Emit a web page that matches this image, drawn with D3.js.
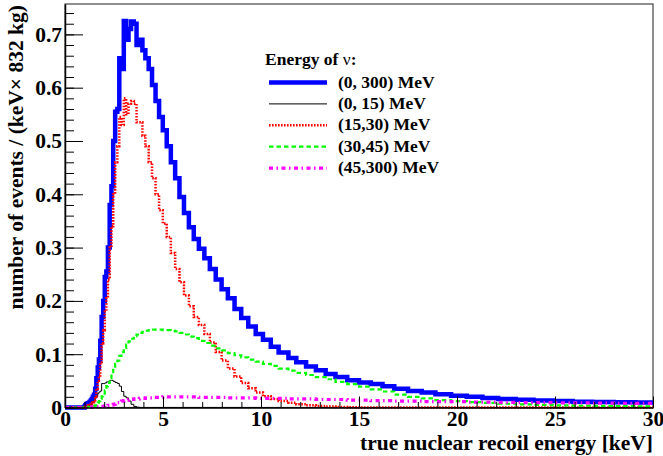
<!DOCTYPE html>
<html>
<head>
<meta charset="utf-8">
<script src="https://cdn.jsdelivr.net/npm/d3@7"></script>
<style>
  body { margin: 0; background: #fff; }
  svg text { font-family: "Liberation Serif", "Times New Roman", serif; font-weight: bold; }
</style>
</head>
<body>
<div id="chart"></div>
<script>
// Bin edges of the recoil energy histograms [keV] (variable width, as in the plot)
const binEdges = [0, 1.00, 1.04, 1.08, 1.12, 1.17, 1.22, 1.27, 1.32, 1.37, 1.42,
    1.48, 1.54, 1.60, 1.67, 1.73, 1.80, 1.87, 1.95, 2.03, 2.11,
    2.19, 2.28, 2.37, 2.46, 2.56, 2.67, 2.77, 2.88, 3.00, 3.12,
    3.24, 3.37, 3.51, 3.65, 3.79, 3.95, 4.10, 4.27, 4.44, 4.62,
    4.80, 4.99, 5.19, 5.40, 5.62, 5.84, 6.07, 6.32, 6.57, 6.83,
    7.11, 7.39, 7.69, 7.99, 8.31, 8.65, 8.99, 9.35, 9.73, 10.1,
    10.5, 10.9, 11.4, 11.8, 12.3, 12.8, 13.3, 13.8, 14.4, 15.0,
    15.6, 16.2, 16.8, 17.5, 18.2, 18.9, 19.7, 20.5, 21.3, 22.1,
    23.0, 23.9, 24.9, 25.9, 26.9, 28.0, 29.1, 30.0];

// events / (keV x 832 kg), one value per bin
const nu0to300 = [0, 0.002, 0.004, 0.006, 0.007, 0.008, 0.009, 0.011, 0.013, 0.016,
    0.020, 0.024, 0.035, 0.055, 0.075, 0.090, 0.125, 0.170, 0.200, 0.245,
    0.255, 0.300, 0.380, 0.415, 0.500, 0.555, 0.560, 0.655, 0.635, 0.725,
    0.690, 0.710, 0.724, 0.720, 0.680, 0.690, 0.670, 0.655, 0.635, 0.605,
    0.575, 0.545, 0.520, 0.490, 0.460, 0.430, 0.395, 0.365, 0.338, 0.316,
    0.298, 0.280, 0.260, 0.240, 0.222, 0.205, 0.185, 0.168, 0.152, 0.138,
    0.127, 0.114, 0.103, 0.093, 0.085, 0.077, 0.070, 0.063, 0.057, 0.051,
    0.047, 0.044, 0.040, 0.035, 0.031, 0.028, 0.025, 0.022, 0.020, 0.018,
    0.016, 0.0145, 0.013, 0.012, 0.011, 0.0105, 0.010, 0.0095];

const nu0to15 = [0, 0, 0, 0.001, 0.001, 0.002, 0.003, 0.004, 0.006, 0.011,
    0.011, 0.013, 0.020, 0.020, 0.026, 0.029, 0.031, 0.045, 0.045, 0.046,
    0.048, 0.048, 0.051, 0.051, 0.049, 0.047, 0.045, 0.040, 0.030, 0.021,
    0.018, 0.012, 0.006, 0.002, 0.0005, 0, 0, 0, 0, 0,
    0, 0, 0, 0, 0, 0, 0, 0, 0, 0,
    0, 0, 0, 0, 0, 0, 0, 0, 0, 0,
    0, 0, 0, 0, 0, 0, 0, 0, 0, 0,
    0, 0, 0, 0, 0, 0, 0, 0, 0, 0,
    0, 0, 0, 0, 0, 0, 0, 0];

const nu15to30 = [0, 0.001, 0.002, 0.003, 0.003, 0.004, 0.004, 0.005, 0.006, 0.008,
    0.010, 0.013, 0.020, 0.035, 0.050, 0.060, 0.085, 0.120, 0.145, 0.180,
    0.205, 0.240, 0.300, 0.340, 0.400, 0.460, 0.490, 0.545, 0.530, 0.580,
    0.550, 0.570, 0.575, 0.570, 0.535, 0.535, 0.510, 0.490, 0.460, 0.430,
    0.400, 0.370, 0.345, 0.320, 0.290, 0.260, 0.235, 0.210, 0.190, 0.170,
    0.155, 0.138, 0.122, 0.104, 0.088, 0.073, 0.058, 0.046, 0.036, 0.028,
    0.021, 0.016, 0.012, 0.009, 0.006, 0.004, 0.003, 0.002, 0.001, 0.0005,
    0, 0, 0, 0, 0, 0, 0, 0, 0, 0,
    0, 0, 0, 0, 0, 0, 0, 0];

const nu30to45 = [0, 0, 0, 0, 0.0005, 0.001, 0.001, 0.001, 0.001, 0.002,
    0.002, 0.003, 0.004, 0.006, 0.009, 0.012, 0.016, 0.021, 0.026, 0.032,
    0.040, 0.046, 0.055, 0.063, 0.073, 0.082, 0.088, 0.097, 0.104, 0.112,
    0.118, 0.124, 0.129, 0.134, 0.137, 0.140, 0.142, 0.144, 0.145, 0.146,
    0.146, 0.146, 0.145, 0.145, 0.144, 0.143, 0.140, 0.137, 0.133, 0.130,
    0.125, 0.121, 0.116, 0.111, 0.107, 0.102, 0.098, 0.094, 0.090, 0.086,
    0.082, 0.078, 0.073, 0.069, 0.065, 0.061, 0.057, 0.053, 0.048, 0.044,
    0.039, 0.034, 0.030, 0.024, 0.020, 0.017, 0.014, 0.012, 0.010, 0.0085,
    0.007, 0.006, 0.005, 0.004, 0.0035, 0.003, 0.0025, 0.002];

const nu45to300 = [0, 0, 0, 0, 0, 0, 0, 0, 0, 0.001,
    0.001, 0.001, 0.001, 0.001, 0.001, 0.002, 0.002, 0.002, 0.002, 0.003,
    0.003, 0.004, 0.005, 0.005, 0.006, 0.007, 0.009, 0.011, 0.012, 0.013,
    0.014, 0.015, 0.015, 0.016, 0.016, 0.017, 0.017, 0.018, 0.018, 0.019,
    0.019, 0.019, 0.020, 0.020, 0.020, 0.020, 0.020, 0.020, 0.020, 0.020,
    0.019, 0.019, 0.019, 0.019, 0.019, 0.018, 0.018, 0.018, 0.018, 0.017,
    0.017, 0.017, 0.017, 0.016, 0.016, 0.016, 0.015, 0.015, 0.015, 0.014,
    0.014, 0.013, 0.013, 0.012, 0.012, 0.011, 0.011, 0.011, 0.010, 0.010,
    0.0095, 0.0093, 0.009, 0.0088, 0.0085, 0.0082, 0.008, 0.0078];

const legendLabels = ["(0, 300) MeV", "(0, 15) MeV", "(15,30) MeV", "(30,45) MeV", "(45,300) MeV"];
const xMajorTicks = [0, 5, 10, 15, 20, 25, 30];
const xTickLabels = ["0", "5", "10", "15", "20", "25", "30"];
const yMajorTicks = [0, 0.1, 0.2, 0.3, 0.4, 0.5, 0.6, 0.7];
const yTickLabels = ["0", "0.1", "0.2", "0.3", "0.4", "0.5", "0.6", "0.7"];

// histogram styles (drawing order: total first, the rest on top)
const series = [
    { values: nu0to300, label: legendLabels[0], color: "#0000ff", width: 4.5, dash: null },
    { values: nu0to15, label: legendLabels[1], color: "#000000", width: 1, dash: null },
    { values: nu15to30, label: legendLabels[2], color: "#ff0000", width: 2.5, dash: "1.6,1.4" },
    { values: nu30to45, label: legendLabels[3], color: "#00ff00", width: 2.2, dash: "4.5,3" },
    { values: nu45to300, label: legendLabels[4], color: "#ff00ff", width: 3.2, dash: "4,3.5,1.5,3.5" }
];

const W = 663, H = 456;
const frame = { left: 65, right: 653, top: 4, bottom: 407.5 };

const svg = d3.select("#chart").append("svg")
    .attr("width", W)
    .attr("height", H);

const x = d3.scaleLinear().domain([0, 30]).range([frame.left, frame.right]);
const y = d3.scaleLinear().domain([0, 0.757]).range([frame.bottom, frame.top]);

// frame
svg.append("rect")
    .attr("x", frame.left).attr("y", frame.top)
    .attr("width", frame.right - frame.left).attr("height", frame.bottom - frame.top)
    .attr("fill", "none")
    .attr("stroke", "#444")
    .attr("stroke-width", 1.2);

// histograms as step lines
const step = d3.line()
    .x(d => x(d[0]))
    .y(d => y(d[1]))
    .curve(d3.curveStepAfter);

series.forEach(s => {
    const pts = s.values.map((v, i) => [binEdges[i], v]);
    pts.push([binEdges[binEdges.length - 1], s.values[s.values.length - 1]]);
    svg.append("path")
        .attr("d", step(pts))
        .attr("fill", "none")
        .attr("stroke", s.color)
        .attr("stroke-width", s.width)
        .attr("stroke-dasharray", s.dash)
        .attr("stroke-linejoin", "miter");
});

// minor ticks
svg.append("g")
    .attr("transform", `translate(0,${frame.bottom})`)
    .call(d3.axisBottom(x).tickValues(x.ticks(30)).tickSize(-5.5).tickSizeOuter(0).tickFormat(""))
    .call(g => g.select(".domain").remove());
svg.append("g")
    .attr("transform", `translate(${frame.left},0)`)
    .call(d3.axisLeft(y).tickValues(y.ticks(40)).tickSize(-9).tickSizeOuter(0).tickFormat(""))
    .call(g => g.select(".domain").remove());

// major ticks with labels
const xAxis = svg.append("g")
    .attr("transform", `translate(0,${frame.bottom})`)
    .call(d3.axisBottom(x).tickValues(xMajorTicks).tickSize(-11).tickSizeOuter(0)
        .tickPadding(3).tickFormat((d, i) => xTickLabels[i]));
const yAxis = svg.append("g")
    .attr("transform", `translate(${frame.left},0)`)
    .call(d3.axisLeft(y).tickValues(yMajorTicks).tickSize(-18).tickSizeOuter(0)
        .tickPadding(3).tickFormat((d, i) => yTickLabels[i]));

[xAxis, yAxis].forEach(g => {
    g.attr("font-family", null).attr("font-size", null);
    g.select(".domain").attr("stroke", "#000").attr("stroke-width", 1.5);
    g.selectAll(".tick line").attr("stroke", "#000").attr("stroke-width", 1);
    g.selectAll(".tick text").attr("fill", "#000").style("font-size", "21.5px");
});
xAxis.selectAll(".tick text").attr("dy", "0.7em");

// axis titles
svg.append("text")
    .attr("x", frame.right)
    .attr("y", 449.5)
    .attr("text-anchor", "end")
    .style("font-size", "21.5px")
    .text("true nuclear recoil energy [keV]");

svg.append("text")
    .attr("transform", `translate(23,${frame.top + 1}) rotate(-90)`)
    .attr("text-anchor", "end")
    .style("font-size", "21.5px")
    .text("number of events / (keV\u00d7 832 kg)");

// legend
const legend = svg.append("g");
const title = legend.append("text")
    .attr("x", 265)
    .attr("y", 65)
    .style("font-size", "17.5px");
title.append("tspan").text("Energy of  ");
title.append("tspan").style("font-weight", "normal").text("\u03bd");
title.append("tspan").text(":");

series.forEach((s, i) => {
    const yy = 87.5 + i * 21.4;
    legend.append("line")
        .attr("x1", 269).attr("x2", 327)
        .attr("y1", yy - 5).attr("y2", yy - 5)
        .attr("stroke", s.color)
        .attr("stroke-width", s.width)
        .attr("stroke-dasharray", s.dash);
    legend.append("text")
        .attr("x", 338)
        .attr("y", yy)
        .style("font-size", "17.5px")
        .text(s.label);
});
</script>
</body>
</html>
